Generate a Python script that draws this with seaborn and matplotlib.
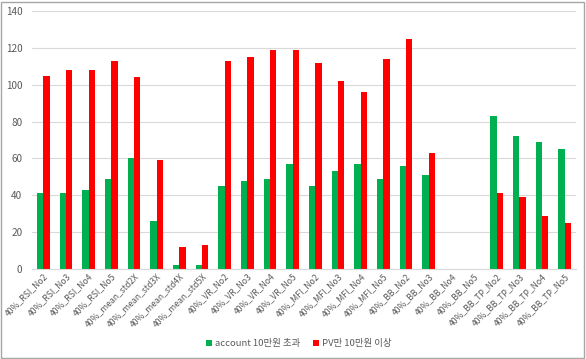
import pandas as pd
import seaborn as sns
import matplotlib.pyplot as plt
from matplotlib.patches import Rectangle

categories = ['40%_RSI_No2', '40%_RSI_No3', '40%_RSI_No4', '40%_RSI_No5',
              '40%_mean_std2X', '40%_mean_std3X', '40%_mean_std4X', '40%_mean_std5X',
              '40%_VR_No2', '40%_VR_No3', '40%_VR_No4', '40%_VR_No5',
              '40%_MFI_No2', '40%_MFI_No3', '40%_MFI_No4', '40%_MFI_No5',
              '40%_BB_No2', '40%_BB_No3', '40%_BB_No4', '40%_BB_No5',
              '40%_BB_TP_No2', '40%_BB_TP_No3', '40%_BB_TP_No4', '40%_BB_TP_No5']
account = [41, 41, 43, 49, 60, 26, 2, 2, 45, 48, 49, 57,
           45, 53, 57, 49, 56, 51, 0, 0, 83, 72, 69, 65]
pv = [105, 108, 108, 113, 104, 59, 12, 13, 113, 115, 119, 119,
      112, 102, 96, 114, 125, 63, 0, 0, 41, 39, 29, 25]
series_names = ['account 10만원 초과', 'PV만 10만원 이상']
colors = ['#00B050', '#FF0000']

df = pd.DataFrame({'cat': categories * 2,
                   'value': account + pv,
                   'series': [series_names[0]] * len(categories) + [series_names[1]] * len(categories)})

sns.set_style('white')
plt.rcParams['font.family'] = ['Noto Sans CJK KR', 'DejaVu Sans']

fig = plt.figure(figsize=(5.86, 3.59), dpi=100)
ax = fig.add_axes([0.0546, 0.2507, 0.9284, 0.7186])

sns.barplot(data=df, x='cat', y='value', hue='series', palette=colors,
            width=0.55, gap=0, saturation=1, ax=ax, edgecolor='none')

ax.set_ylim(0, 140)
ax.set_yticks(range(0, 141, 20))
ax.set_xlim(-0.5, len(categories) - 0.5)
ax.grid(axis='y', color='#D9D9D9', linewidth=0.8)
ax.set_axisbelow(True)
for s in ['top', 'right', 'left']:
    ax.spines[s].set_visible(False)
ax.spines['bottom'].set_color('#D9D9D9')
ax.set_xlabel('')
ax.set_ylabel('')
ax.tick_params(axis='both', length=0, colors='#595959')
ax.tick_params(axis='y', labelsize=7.2, pad=7)
ax.tick_params(axis='x', labelsize=6.2, pad=2)
plt.setp(ax.get_xticklabels(), rotation=45, ha='right', rotation_mode='anchor')

leg = ax.legend(loc='center', bbox_to_anchor=(0.49, -0.29), ncol=2, frameon=False,
                fontsize=6.8, handlelength=0.7, handleheight=0.7, handletextpad=0.3,
                columnspacing=1.3, labelcolor='#595959', borderpad=0)

fig.patches.append(Rectangle((0.001, 0.004), 0.996, 0.99, transform=fig.transFigure,
                             fill=False, edgecolor='#A6A6A6', linewidth=1))

fig.savefig('out.png', dpi=100)
